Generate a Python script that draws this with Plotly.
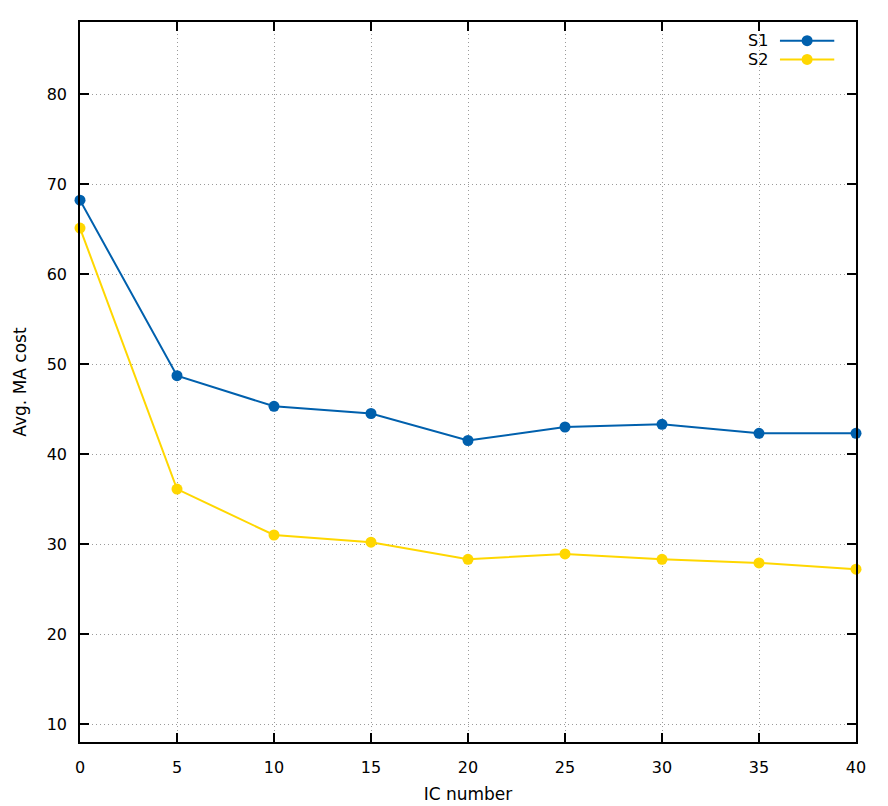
import plotly.graph_objects as go

# values
ic_number = [0, 5, 10, 15, 20, 25, 30, 35, 40]
s1_cost = [68.2, 48.7, 45.3, 44.5, 41.5, 43.0, 43.3, 42.3, 42.3]
s2_cost = [65.1, 36.1, 31.0, 30.2, 28.3, 28.9, 28.3, 27.9, 27.2]
x_ticks = [0, 5, 10, 15, 20, 25, 30, 35, 40]
y_ticks = [10, 20, 30, 40, 50, 60, 70, 80]

blue = "#0060ad"
gold = "#ffd700"
font = "DejaVu Sans"

fig = go.Figure()

fig.add_trace(go.Scatter(
    x=ic_number, y=s1_cost, mode="lines+markers", name="S1",
    line=dict(color=blue, width=2), marker=dict(color=blue, size=11),
    cliponaxis=False
))
fig.add_trace(go.Scatter(
    x=ic_number, y=s2_cost, mode="lines+markers", name="S2",
    line=dict(color=gold, width=2), marker=dict(color=gold, size=11),
    cliponaxis=False
))

# gnuplot-style key: label on the left, sample on the right
for i, (name, col) in enumerate([("S1", blue), ("S2", gold)]):
    yk = 0.974 - i * 0.026
    fig.add_trace(go.Scatter(
        x=[0.902, 0.972], y=[yk, yk], mode="lines", xaxis="x2", yaxis="y2",
        line=dict(color=col, width=2), hoverinfo="skip", showlegend=False
    ))
    fig.add_trace(go.Scatter(
        x=[0.937], y=[yk], mode="markers", xaxis="x2", yaxis="y2",
        marker=dict(color=col, size=11), hoverinfo="skip", showlegend=False
    ))
    fig.add_annotation(
        x=0.889, y=yk, xref="x2", yref="y2", text=name, showarrow=False,
        xanchor="right", yanchor="middle", font=dict(family=font, size=16, color="black")
    )

axis_common = dict(
    showline=True, linecolor="black", linewidth=1.6, mirror="allticks",
    ticks="inside", ticklen=9, tickwidth=1.6, tickcolor="black",
    showgrid=True, gridcolor="#9a9a9a", griddash="1px,3px", gridwidth=1,
    zeroline=False, automargin=False,
    tickfont=dict(family=font, size=16, color="black"),
)

fig.update_layout(
    width=880, height=798,
    paper_bgcolor="white", plot_bgcolor="white",
    margin=dict(l=72, r=32, t=14, b=64),
    showlegend=False,
    xaxis=dict(range=[0, 40], tickvals=x_ticks, ticklabelstandoff=10,
               title=dict(text="IC number", font=dict(family=font, size=17, color="black"), standoff=12),
               **axis_common),
    yaxis=dict(range=[8, 88], tickvals=y_ticks, ticklabelstandoff=8,
               title=dict(text="Avg. MA cost", font=dict(family=font, size=17, color="black"), standoff=16),
               **axis_common),
    xaxis2=dict(range=[0, 1], overlaying="x", visible=False, fixedrange=True),
    yaxis2=dict(range=[0, 1], overlaying="y", visible=False, fixedrange=True),
)

fig.write_html("out.html")
